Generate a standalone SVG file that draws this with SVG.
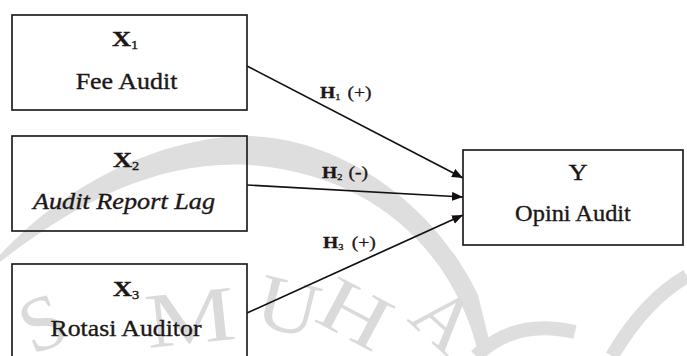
<svg xmlns="http://www.w3.org/2000/svg" width="687" height="356" viewBox="0 0 687 356">
<defs>
<style>
.box{fill:none;stroke:#231f1f;stroke-width:1.7}
.t{font-family:"Liberation Serif","Times New Roman",serif;fill:#1c1717;stroke:#1c1717;stroke-width:0.35}
.lbl{font-size:23px;text-anchor:middle}
.var{font-size:22px;font-weight:bold}
.sub{font-size:12px;font-weight:normal}
.h{font-size:17px;font-weight:bold}
.hs{font-size:9px;font-weight:normal}
.hp{font-size:17px;font-weight:normal}
.conn{stroke:#141010;stroke-width:1.7;fill:none;marker-end:url(#arr)}
.wm{font-family:"Liberation Serif",serif;font-size:78px;fill:#dadada}
</style>
<marker id="arr" markerUnits="userSpaceOnUse" markerWidth="12" markerHeight="10" refX="11" refY="4.5" orient="auto">
<path d="M0,0 L11,4.5 L0,9 Z" fill="#141010"/>
</marker>
</defs>
<rect width="687" height="356" fill="#ffffff"/>
<g id="watermark">
<path d="M0,255 C60,190 150,140 240,136 C330,134 430,195 478,295 L492,352 L478,352 C455,258 380,175 250,165 C160,160 80,200 0,262 Z" fill="#dedede"/>
<path d="M476,356 Q515,318 575,332" fill="none" stroke="#dedede" stroke-width="14"/>
<path d="M612,356 Q645,300 687,276" fill="none" stroke="#dedede" stroke-width="14"/>
<text class="wm" x="20" y="348" transform="rotate(-22 45 320)">S</text>
<text class="wm" x="0" y="0" transform="translate(148,348) rotate(-6) scale(1.3,1)">M</text>
<text class="wm" x="0" y="0" transform="translate(252,324) rotate(14) scale(1.1,1)">U</text>
<text class="wm" x="0" y="0" transform="translate(312,320) rotate(28) scale(1.25,1)">H</text>
<text class="wm" x="0" y="0" transform="translate(406,320) rotate(42)">A</text>
</g>
<g id="connectors">
<line class="conn" x1="247" y1="66" x2="463" y2="178"/>
<line class="conn" x1="247" y1="185" x2="463" y2="197"/>
<line class="conn" x1="247" y1="313" x2="463" y2="215"/>
<g class="t">
<text class="h" transform="translate(320,98) scale(1.15,1)">H<tspan class="hs" dy="2">1</tspan><tspan class="hp" dy="-2" x="24">(+)</tspan></text>
<text class="h" transform="translate(322,178) scale(1.15,1)">H<tspan class="hs" dy="2">2</tspan><tspan class="hp" dy="-2" x="23">(-)</tspan></text>
<text class="h" transform="translate(323,248) scale(1.15,1)">H<tspan class="hs" dy="2">3</tspan><tspan class="hp" dy="-2" x="25">(+)</tspan></text>
</g>
</g>
<g id="node-x1">
<rect class="box" x="12" y="15" width="235" height="95"/>
<text class="t var" transform="translate(112,46) scale(1.2,1)">X<tspan class="sub" dy="3">1</tspan></text>
<text class="t lbl" transform="translate(126.5,89) scale(1.13,1)">Fee Audit</text>
</g>
<g id="node-x2">
<rect class="box" x="12" y="136" width="235" height="95"/>
<text class="t var" transform="translate(113,167) scale(1.2,1)">X<tspan class="sub" dy="3">2</tspan></text>
<text class="t lbl" transform="translate(124,209) scale(1.14,1)" font-style="italic">Audit Report Lag</text>
</g>
<g id="node-x3">
<rect class="box" x="12" y="264" width="235" height="100"/>
<text class="t var" transform="translate(113,296) scale(1.2,1)">X<tspan class="sub" dy="3">3</tspan></text>
<text class="t lbl" transform="translate(126,336) scale(1.12,1)">Rotasi Auditor</text>
</g>
<g id="node-y">
<rect class="box" x="463" y="150" width="220" height="95"/>
<text class="t lbl" transform="translate(578,180) scale(1.15,1)">Y</text>
<text class="t lbl" transform="translate(573,221) scale(1.06,1)">Opini Audit</text>
</g>
</svg>
